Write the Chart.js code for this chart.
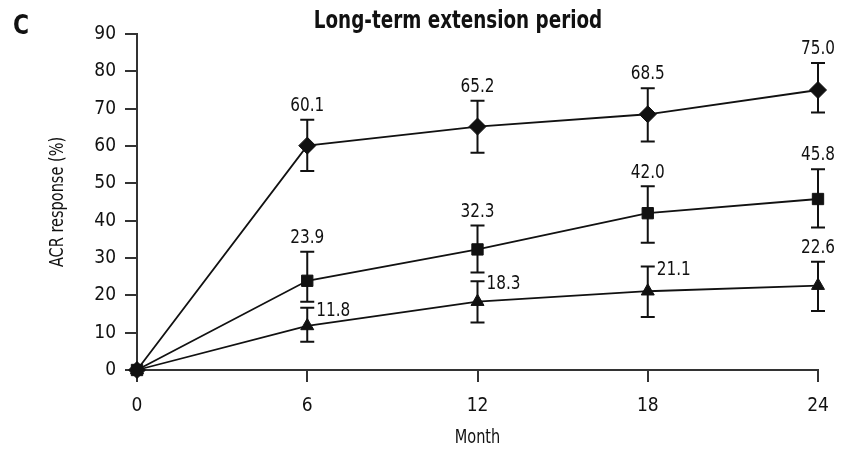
<!DOCTYPE html>
<html>
<head>
<meta charset="utf-8">
<script src="https://cdn.jsdelivr.net/npm/chart.js@4.4.1/dist/chart.umd.min.js"></script>
<style>
  html, body { margin: 0; padding: 0; background: #fff; }
  #wrap { width: 850px; height: 450px; position: relative; }
</style>
</head>
<body>
<div id="wrap"><canvas id="myChart" width="850" height="450"></canvas></div>
<script>
// data
const months = [0, 6, 12, 18, 24];
const yTicks = [0, 10, 20, 30, 40, 50, 60, 70, 80, 90];

const acr20 = [0, 60.1, 65.2, 68.5, 75.0];
const acr20Low = [null, 53.3, 58.2, 61.2, 69.0];
const acr20High = [null, 67.0, 72.1, 75.5, 82.2];

const acr50 = [0, 23.9, 32.3, 42.0, 45.8];
const acr50Low = [null, 18.3, 26.1, 34.1, 38.2];
const acr50High = [null, 31.7, 38.7, 49.2, 53.8];

const acr70 = [0, 11.8, 18.3, 21.1, 22.6];
const acr70Low = [null, 7.6, 12.7, 14.2, 15.8];
const acr70High = [null, 16.7, 23.8, 27.7, 29.0];

const lows = [acr20Low, acr50Low, acr70Low];
const highs = [acr20High, acr50High, acr70High];

const FONT = '"Liberation Sans Narrow", "DejaVu Sans Condensed", "Liberation Sans", sans-serif';
Chart.defaults.font.family = FONT;
Chart.defaults.color = '#111';

const toPoints = vals => vals.map((v, i) => ({ x: months[i], y: v }));

// squeezed text, the figure uses a condensed face
const narrowText = (ctx, txt, x, y, sx) => {
    ctx.save();
    ctx.translate(x, y);
    ctx.scale(sx, 1);
    ctx.fillText(txt, 0, 0);
    ctx.restore();
};

// error bars under the markers
const errorBars = {
    id: 'errorBars',
    beforeDatasetsDraw(chart) {
        const { ctx, scales: { x, y } } = chart;
        ctx.save();
        ctx.strokeStyle = '#111';
        ctx.lineWidth = 2;
        lows.forEach((lo, i) => {
            lo.forEach((l, j) => {
                const h = highs[i][j];
                if (l == null || h == null) return;
                const px = x.getPixelForValue(months[j]);
                const y1 = y.getPixelForValue(l);
                const y2 = y.getPixelForValue(h);
                ctx.beginPath();
                ctx.moveTo(px, y1); ctx.lineTo(px, y2);
                ctx.moveTo(px - 7, y1); ctx.lineTo(px + 7, y1);
                ctx.moveTo(px - 7, y2); ctx.lineTo(px + 7, y2);
                ctx.stroke();
            });
        });
        ctx.restore();
    }
};

// value labels, title and panel letter
const labelsAndText = {
    id: 'labelsAndText',
    afterDatasetsDraw(chart) {
        const { ctx, scales: { x, y }, chartArea } = chart;
        ctx.save();
        ctx.fillStyle = '#111';
        ctx.font = '20px ' + FONT;
        chart.data.datasets.forEach((ds, i) => {
            ds.data.forEach((p, j) => {
                const h = highs[i][j];
                if (h == null) return;
                const px = x.getPixelForValue(p.x);
                const py = y.getPixelForValue(h);
                const txt = p.y.toFixed(1);
                if (i === 2 && j < 4) {
                    ctx.textAlign = 'left';
                    ctx.textBaseline = 'middle';
                    narrowText(ctx, txt, px + 9, py + 3, 0.85);
                } else {
                    ctx.textAlign = 'center';
                    ctx.textBaseline = 'bottom';
                    narrowText(ctx, txt, px, py - 4, 0.85);
                }
            });
        });

        ctx.font = 'bold 24px ' + FONT;
        ctx.textAlign = 'center';
        ctx.textBaseline = 'middle';
        narrowText(ctx, 'Long-term extension period', 458, 22, 0.85);

        ctx.font = 'bold 27px ' + FONT;
        ctx.textAlign = 'left';
        narrowText(ctx, 'C', 13, 27, 0.9);

        ctx.font = '19px ' + FONT;
        ctx.textAlign = 'center';
        narrowText(ctx, 'Month', (chartArea.left + chartArea.right) / 2, 438, 0.85);

        ctx.translate(58, (chartArea.top + chartArea.bottom) / 2);
        ctx.rotate(-Math.PI / 2);
        narrowText(ctx, 'ACR response (%)', 0, 0, 0.85);
        ctx.restore();
    }
};

const common = {
    borderColor: '#111',
    backgroundColor: '#111',
    borderWidth: 1.8,
    pointBorderWidth: 1,
    pointBorderColor: '#111',
    pointBackgroundColor: '#111',
    clip: false,
    tension: 0
};

let ctx = document.getElementById('myChart').getContext('2d');
let acrChart = new Chart(ctx, {
    type: 'line',
    data: {
        datasets: [
            { ...common, label: 'ACR20', data: toPoints(acr20), pointStyle: 'rectRot', pointRadius: 8.5 },
            { ...common, label: 'ACR50', data: toPoints(acr50), pointStyle: 'rect', pointRadius: 8 },
            { ...common, label: 'ACR70', data: toPoints(acr70), pointStyle: 'triangle', pointRadius: 7.5 }
        ]
    },
    options: {
        responsive: false,
        animation: false,
        layout: { padding: { left: 0, right: 32, top: 34, bottom: 0 } },
        plugins: {
            legend: { display: false },
            tooltip: { enabled: false }
        },
        scales: {
            x: {
                type: 'linear',
                min: 0,
                max: 24,
                afterFit: s => { s.height = 80; },
                afterBuildTicks: s => { s.ticks = months.map(v => ({ value: v })); },
                ticks: { font: { size: 19 }, color: '#111', padding: 13 },
                grid: { drawOnChartArea: false, drawTicks: true, tickLength: 12, color: '#333', lineWidth: 2 },
                border: { color: '#333', width: 2 }
            },
            y: {
                min: 0,
                max: 90,
                afterFit: s => { s.width = 137; },
                afterBuildTicks: s => { s.ticks = yTicks.map(v => ({ value: v })); },
                ticks: { font: { size: 19 }, color: '#111', padding: 9 },
                grid: { drawOnChartArea: false, drawTicks: true, tickLength: 12, color: '#333', lineWidth: 2 },
                border: { color: '#333', width: 2 }
            }
        }
    },
    plugins: [errorBars, labelsAndText]
});
</script>
</body>
</html>
